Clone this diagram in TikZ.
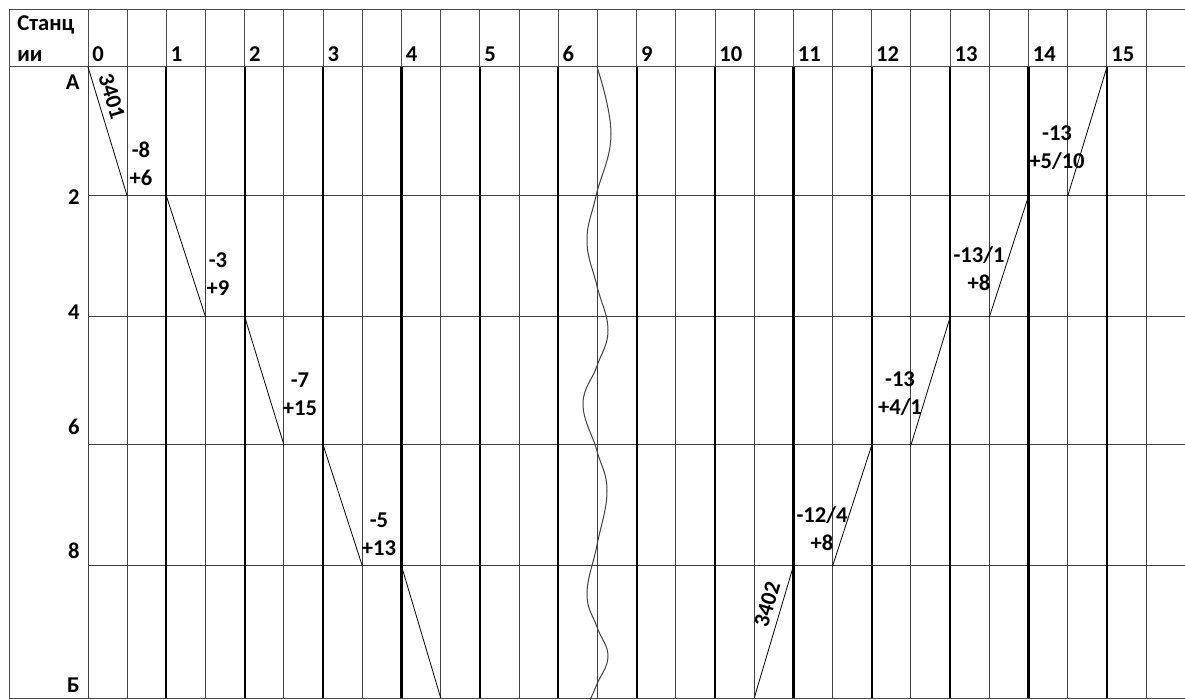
\documentclass[tikz,border=0pt]{standalone}
\usepackage{fontspec}
\setmainfont{Carlito}
\usetikzlibrary{positioning}

\begin{document}
\begin{tikzpicture}[
  x = 0.5pt, y = -0.5pt,
  headline/.style = {line width=0.5pt, black!70},
  halfline/.style = {line width=0.5pt, black!75},
  hourline/.style = {line width=1.1pt, black},
  train/.style    = {line width=0.4pt, black},
  wave/.style     = {line width=0.5pt, black!75},
  lbl/.style      = {font=\fontsize{11.3}{14}\selectfont\bfseries, inner sep=0pt, align=center},
  hlbl/.style     = {font=\fontsize{11.3}{14}\selectfont\bfseries, inner sep=0pt, anchor=base west},
  slbl/.style     = {font=\fontsize{11.3}{14}\selectfont\bfseries, inner sep=0pt, anchor=base east},
  num/.style      = {font=\fontsize{11.3}{14}\selectfont\bfseries, sloped, above, inner sep=3.2pt}
]
\useasboundingbox (0,0) rectangle (1185,700);

% grid points
\foreach \r/\yy in {0/67, 1/196, 2/317, 3/445, 4/566, 5/698}
  \foreach \k in {0,...,27}
    \coordinate (p\k-\r) at ({88+39.19*\k}, \yy);

\draw[headline] (9,10) -- (1185,10);
\draw[headline] (9,67) -- (1185,67);
\draw[headline] (9,10) -- (9,698) -- (1185,698);
\foreach \r in {1,...,4}
  \draw[halfline] (p0-\r) -- ++(1097,0);
\foreach \k in {0,...,27}
  \draw[headline] (p\k-0) -- ++(0,-57);
\foreach \k in {0,1,3,...,27}
  \draw[halfline] (p\k-0) -- (p\k-5);
\foreach \k in {2,4,...,26}
  \draw[hourline] (p\k-0) -- (p\k-5);

\node[hlbl] (stations1) at (17,31) {Станц};
\node[hlbl] (stations2) at (17,62) {ии};
\foreach \h [count=\i from 0] in {0,1,2,3,4,5,6,9,10,11,12,13,14,15}
  \node[hlbl] (h\h) at ({92+78.38*\i}, 62) {\h};
\foreach \s/\yy [count=\j] in {А/90, 2/205, 4/320, 6/435, 8/559, Б/692}
  \node[slbl] (st\j) at (80,\yy) {\s};

\draw[train] (p0-0)  -- node[num, pos=0.26] (n3401) {3401} (p1-1);
\draw[train] (p2-1)  -- (p3-2);
\draw[train] (p4-2)  -- (p5-3);
\draw[train] (p6-3)  -- (p7-4);
\draw[train] (p8-4)  -- (p9-5);
\draw[train] (p17-5) -- node[num, pos=0.68] (n3402) {3402} (p18-4);
\draw[train] (p19-4) -- (p20-3);
\draw[train] (p21-3) -- (p22-2);
\draw[train] (p23-2) -- (p24-1);
\draw[train] (p25-1) -- (p26-0);

\node[lbl] (t1) at (141,163.5) {-8\\+6};
\node[lbl] (t2) at (218,274)   {-3\\+9};
\node[lbl] (t3) at (300,394)   {-7\\+15};
\node[lbl] (t4) at (379,534)   {-5\\+13};
\node[lbl] (t5) at (822,528.5) {-12/4\\+8};
\node[lbl] (t6) at (900,394)   {-13\\+4/1};
\node[lbl] (t7) at (979,269)   {-13/1\\+8};
\node[lbl] (t8) at (1057,148)  {-13\\+5/10};

\draw[wave] plot[smooth, tension=0.7] coordinates {(597,67) (611,134) (596,196)
  (587,241) (597,286) (608,330) (597,366) (583,404) (597,451) (607,491)
  (597,545) (587,594) (597,627) (608,656) (597,684) (590,700)};
\end{tikzpicture}
\end{document}
